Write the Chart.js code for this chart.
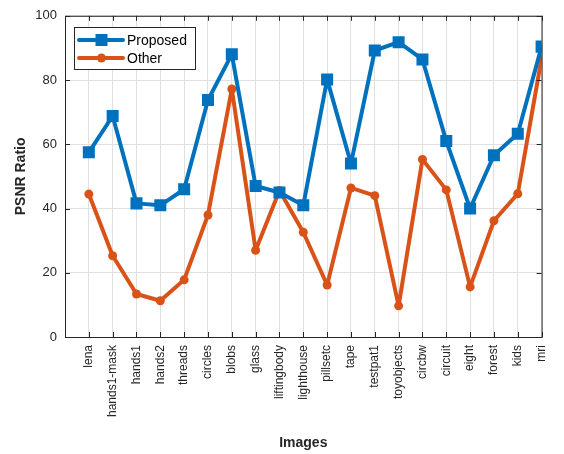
<!DOCTYPE html>
<html>
<head>
<meta charset="utf-8">
<script src="https://cdn.jsdelivr.net/npm/chart.js@4.4.0/dist/chart.umd.min.js"></script>
<style>
  html, body { margin: 0; padding: 0; background: #fff; }
  #wrap { width: 564px; height: 454px; }
</style>
</head>
<body>
<div id="wrap"><canvas id="psnrChart" width="564" height="454"></canvas></div>
<script>
// data
const images = ["lena", "hands1-mask", "hands1", "hands2", "threads", "circles", "blobs", "glass",
  "liftingbody", "lighthouse", "pillsetc", "tape", "testpat1", "toyobjects", "circbw", "circuit",
  "eight", "forest", "kids", "mri"];
const proposed = [57.5, 68.8, 41.6, 41, 46, 73.8, 88, 47, 45, 41, 80.2, 54, 89.2, 91.8, 86.4, 61, 40, 56.6, 63.3, 90.4];
const other = [44.5, 25.3, 13.4, 11.3, 17.8, 38, 77.2, 27, 45.6, 32.6, 16.2, 46.4, 44, 9.7, 55.3, 45.8, 15.6, 36.2, 44.6, 86.8];
const yTicks = [0, 20, 40, 60, 80, 100];

const blue = "#0072BD";
const orange = "#D95319";
const font = "'Liberation Sans', Arial, Helvetica, sans-serif";

function toPoints(arr) {
  return arr.map((v, i) => ({ x: i + 1, y: v }));
}

// box around plot area + legend inside (matlab style)
const framePlugin = {
  id: "frame",
  afterDraw(chart) {
    const { ctx, chartArea: a } = chart;
    ctx.save();
    ctx.strokeStyle = "#262626";
    ctx.lineWidth = 1;
    ctx.strokeRect(a.left + 0.5, a.top + 0.5, a.right - a.left, a.bottom - a.top);

    // inward ticks
    const xs = chart.scales.x, ys = chart.scales.y;
    ctx.beginPath();
    for (let i = 1; i <= images.length; i++) {
      const px = Math.round(xs.getPixelForValue(i)) + 0.5;
      ctx.moveTo(px, a.bottom); ctx.lineTo(px, a.bottom - 5);
      ctx.moveTo(px, a.top); ctx.lineTo(px, a.top + 5);
    }
    yTicks.forEach(t => {
      const py = Math.round(ys.getPixelForValue(t)) + 0.5;
      ctx.moveTo(a.left, py); ctx.lineTo(a.left + 5, py);
      ctx.moveTo(a.right, py); ctx.lineTo(a.right - 5, py);
    });
    ctx.stroke();

    // legend
    const lx = 74, ly = 27, lw = 121, lh = 42;
    ctx.fillStyle = "#fff";
    ctx.fillRect(lx, ly, lw, lh);
    ctx.strokeStyle = "#262626";
    ctx.strokeRect(lx + 0.5, ly + 0.5, lw, lh);
    chart.data.datasets.forEach((ds, i) => {
      const y = ly + 13 + i * 18;
      ctx.strokeStyle = ds.borderColor;
      ctx.lineWidth = 4;
      ctx.lineCap = "round";
      ctx.beginPath();
      ctx.moveTo(lx + 5, y); ctx.lineTo(lx + 49, y);
      ctx.stroke();
      ctx.fillStyle = ds.borderColor;
      if (ds.pointStyle === "rect") {
        ctx.fillRect(lx + 21.5, y - 6, 12, 12);
      } else {
        ctx.beginPath();
        ctx.arc(lx + 27.5, y, 4.5, 0, Math.PI * 2);
        ctx.fill();
      }
      ctx.fillStyle = "#000";
      ctx.font = "14px " + font;
      ctx.textBaseline = "middle";
      ctx.fillText(ds.label, lx + 53, y + 1);
    });
    ctx.restore();
  }
};

new Chart(document.getElementById("psnrChart"), {
  type: "line",
  data: {
    datasets: [{
      label: "Proposed",
      data: toPoints(proposed),
      borderColor: blue,
      backgroundColor: blue,
      borderWidth: 4,
      borderJoinStyle: "round",
      borderCapStyle: "round",
      pointStyle: "rect",
      pointRadius: 8.5,
      pointBorderWidth: 0,
      pointHoverRadius: 8.5,
      tension: 0
    }, {
      label: "Other",
      data: toPoints(other),
      borderColor: orange,
      backgroundColor: orange,
      borderWidth: 4,
      borderJoinStyle: "round",
      borderCapStyle: "round",
      pointStyle: "circle",
      pointRadius: 4.5,
      pointBorderWidth: 0,
      pointHoverRadius: 4.5,
      tension: 0
    }]
  },
  options: {
    responsive: false,
    animation: false,
    layout: { padding: { top: 15, right: 12, left: 13, bottom: 0 } },
    plugins: {
      legend: { display: false },
      tooltip: { enabled: false }
    },
    scales: {
      x: {
        type: "linear",
        min: 0,
        max: images.length,
        afterBuildTicks(scale) {
          scale.ticks = images.map((_, i) => ({ value: i + 1 }));
        },
        afterFit(scale) { scale.height = 117; },
        ticks: {
          autoSkip: false,
          minRotation: 90,
          maxRotation: 90,
          padding: 8,
          color: "#262626",
          font: { family: font, size: 12 },
          callback: v => images[v - 1] || ""
        },
        grid: { color: "#e0e0e0", drawTicks: false },
        border: { display: false },
        title: {
          display: true,
          text: "Images",
          color: "#262626",
          font: { family: font, size: 14, weight: "bold" },
          padding: { top: 0, bottom: 2 }
        }
      },
      y: {
        min: 0,
        max: 100,
        afterBuildTicks(scale) {
          scale.ticks = yTicks.map(v => ({ value: v }));
        },
        afterFit(scale) { scale.width = 52; },
        ticks: {
          padding: 8,
          color: "#262626",
          font: { family: font, size: 13 }
        },
        grid: { color: "#e0e0e0", drawTicks: false },
        border: { display: false },
        title: {
          display: true,
          text: "PSNR Ratio",
          color: "#262626",
          font: { family: font, size: 14, weight: "bold" },
          padding: { top: 0, bottom: 6 }
        }
      }
    }
  },
  plugins: [framePlugin]
});
</script>
</body>
</html>
